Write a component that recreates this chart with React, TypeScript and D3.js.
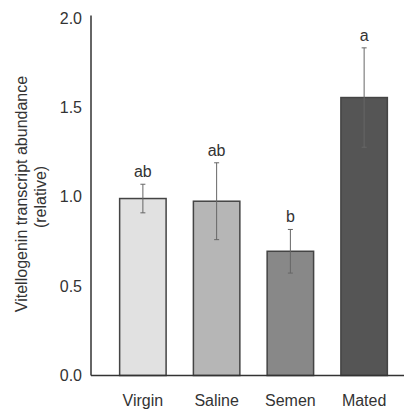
import React from 'react';
import * as d3 from 'd3';

const groups = ['Virgin', 'Saline', 'Semen', 'Mated'];
const means = [0.99, 0.975, 0.695, 1.555];
const errors = [0.08, 0.215, 0.122, 0.278];
const letters = ['ab', 'ab', 'b', 'a'];
const fills = ['#e1e1e1', '#b6b6b6', '#888888', '#555555'];
const yTicks = [0, 0.5, 1, 1.5, 2];

const W = 404;
const H = 414;
const font = '"Liberation Sans", Arial, sans-serif';
const fs = 16;

const App = () => {
  const y = d3.scaleLinear().domain([0, 2]).range([375.5, 18]);
  const x = d3.scaleBand().domain(groups).range([106, 401]).paddingInner(0.37).paddingOuter(0.185);
  const axisX = 91;

  return (
    <svg width={W} height={H} style={{ position: 'absolute', left: 0, top: 0, background: '#fff' }}
      fontFamily={font}>
      {/* bars */}
      {groups.map((g, i) => (
        <rect key={g} x={x(g)} y={y(means[i])} width={x.bandwidth()} height={y(0) - y(means[i])}
          fill={fills[i]} stroke="#444" strokeWidth={1.5} />
      ))}
      {/* error bars */}
      {groups.map((g, i) => {
        const cx = (x(g) as number) + x.bandwidth() / 2;
        const hi = y(means[i] + errors[i]);
        const lo = y(means[i] - errors[i]);
        return (
          <g key={g} stroke="#666" strokeWidth={1}>
            <line x1={cx} x2={cx} y1={hi} y2={lo} />
            <line x1={cx - 2.5} x2={cx + 2.5} y1={hi} y2={hi} />
            <line x1={cx - 2.5} x2={cx + 2.5} y1={lo} y2={lo} />
          </g>
        );
      })}
      {/* significance letters */}
      {groups.map((g, i) => (
        <text key={g} x={(x(g) as number) + x.bandwidth() / 2} y={y(means[i] + errors[i]) - 7}
          textAnchor="middle" fontSize={fs} fill="#333">{letters[i]}</text>
      ))}
      {/* axes */}
      <line x1={axisX} x2={axisX} y1={15.5} y2={y(0)} stroke="#333" strokeWidth={1.5} />
      <line x1={axisX} x2={W} y1={y(0)} y2={y(0)} stroke="#333" strokeWidth={1.5} />
      {yTicks.map(t => (
        <text key={t} x={82} y={y(t)} dy="0.35em" textAnchor="end" fontSize={fs} fill="#333">
          {d3.format('.1f')(t)}
        </text>
      ))}
      {groups.map(g => (
        <text key={g} x={(x(g) as number) + x.bandwidth() / 2} y={406} textAnchor="middle"
          fontSize={fs} fill="#333">{g}</text>
      ))}
      {/* y title */}
      <g transform="translate(27,194) rotate(-90)">
        <text x={0} y={0} textAnchor="middle" fontSize={fs} fill="#333">Vitellogenin transcript abundance</text>
        <text x={-3} y={19} textAnchor="middle" fontSize={fs} fill="#333">(relative)</text>
      </g>
    </svg>
  );
};

export default App;
